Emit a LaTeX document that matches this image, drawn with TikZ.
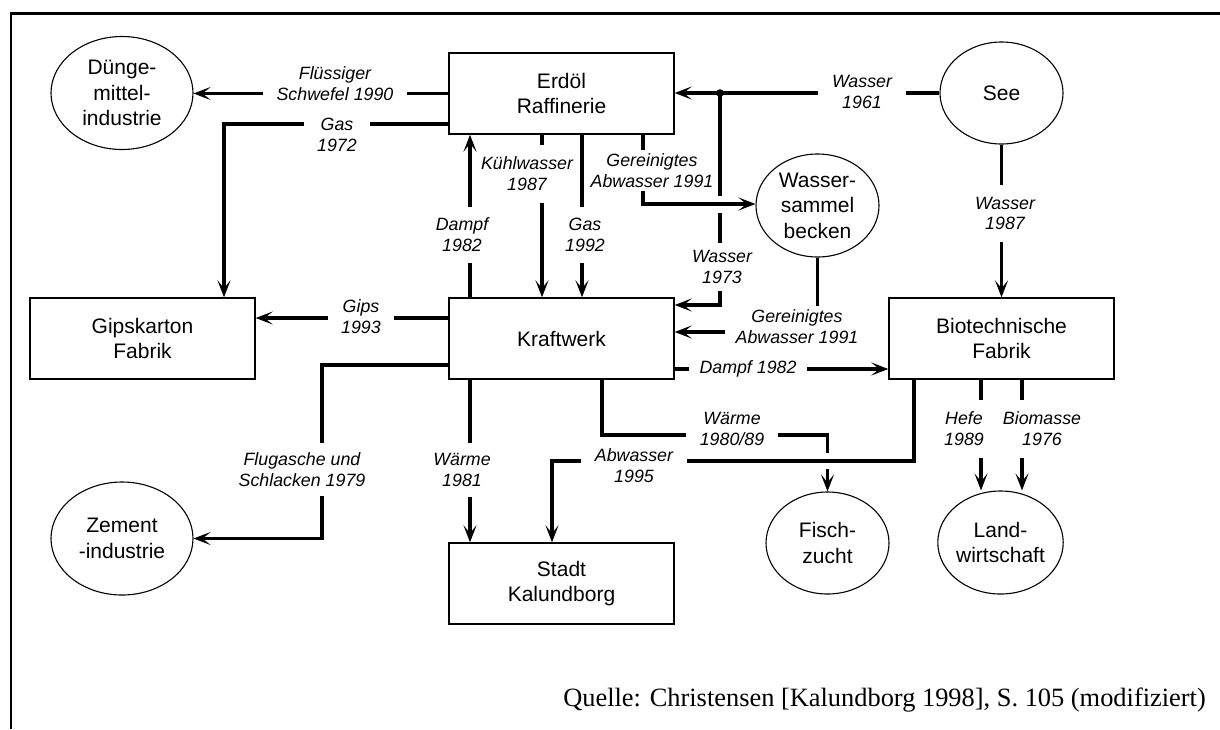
\documentclass[tikz,border=0pt]{standalone}
\usepackage{fontspec}
\setmainfont{Liberation Sans}
\newfontfamily\quellefont{Liberation Serif}
\usetikzlibrary{arrows.meta,shapes.geometric}
\begin{document}
\begin{tikzpicture}[x=1pt,y=-1pt,
  box/.style={draw, line width=1.4pt, minimum width=225pt, minimum height=81pt,
    inner sep=0pt, align=center, font=\fontsize{21}{25.5}\selectfont},
  oval/.style={draw, ellipse, line width=1.1pt, inner sep=0pt, align=center,
    font=\fontsize{21}{25.5}\selectfont},
  flow/.style={line width=3.1pt, -{Stealth[length=17pt,width=13pt,inset=8pt]}},
  lbl/.style={fill=white, inner sep=0pt, align=center,
    font=\fontsize{17.8}{20.8}\selectfont\itshape},
  hlbl/.style={lbl, inner xsep=#1, inner ysep=1pt},
  vlbl/.style={lbl, inner xsep=2pt, inner ysep=#1},
  crossgap/.style={fill=white},
]
\useasboundingbox (0,0) rectangle (1220,729);

% frame
\draw[line width=2.2pt] (1220,13.5) -- (10.7,13.5) -- (10.7,729);

% plants and partners
\node[oval, minimum width=142pt, minimum height=113pt] (dunge) at (122,93) {Dünge-\\mittel-\\industrie};
\node[box] (erdoel) at (561.5,93.5) {Erdöl\\Raffinerie};
\node[oval, minimum width=123pt, minimum height=102pt] (see) at (1001.5,93) {See};
\node[oval, minimum width=123pt, minimum height=103pt] (wsb) at (817.5,205.5) {Wasser-\\sammel\\becken};
\node[box] (gips) at (142.5,338.5) {Gipskarton\\Fabrik};
\node[box] (kraft) at (561.5,338.5) {Kraftwerk};
\node[box] (bio) at (1001.5,338.5) {Biotechnische\\Fabrik};
\node[oval, minimum width=142pt, minimum height=113pt] (zement) at (122,538.5) {Zement\\-industrie};
\node[box] (stadt) at (561.5,583.5) {Stadt\\Kalundborg};
\node[oval, minimum width=123pt, minimum height=102pt] (fisch) at (827.5,543) {Fisch-\\zucht};
\node[oval, minimum width=123pt, minimum height=103pt] (land) at (1000.5,542.5) {Land-\\wirtschaft};

\coordinate (j) at (720,93);
\coordinate (xa) at (720,204);
\coordinate (xb) at (828,461);

% flows
\draw[flow] (erdoel.west) -- (erdoel.west -| dunge.east);
\draw[flow] (erdoel.west |- 0,124) -| (gips.north -| 224,0);
\draw[flow] (kraft.north -| 470,0) -- (erdoel.south -| 470,0);
\draw[flow] (erdoel.south -| 542,0) -- (kraft.north -| 542,0);
\draw[flow] (erdoel.south -| 582,0) -- (kraft.north -| 582,0);
\draw[flow] (see.west) -- (see.west -| erdoel.east);
\draw[flow] (j) |- (kraft.east |- 0,305);
\fill[crossgap] ([xshift=-5pt,yshift=-8.5pt]xa) rectangle ([xshift=5pt,yshift=8.5pt]xa);
\draw[flow] (erdoel.south -| 643,0) |- (wsb.west |- 0,204);
\fill (j) circle (3.8pt);
\draw[flow] (wsb.south) |- (kraft.east |- 0,332);
\draw[flow] (kraft.west |- 0,318) -- (gips.east |- 0,318);
\draw[flow] (kraft.west |- 0,365) -| (zement.east -| 322,0) -- (zement.east);
\draw[flow] (kraft.east |- 0,369) -- (bio.west |- 0,369);
\draw[flow] (kraft.south -| 602,0) |- (fisch.north |- 0,435) -- (fisch.north);
\fill[crossgap] ([xshift=-5pt,yshift=-8pt]xb) rectangle ([xshift=5pt,yshift=8pt]xb);
\draw[flow] (kraft.south -| 470,0) -- (stadt.north -| 470,0);
\draw[flow] (bio.south -| 914,0) |- (552,461) -- (stadt.north -| 552,0);
\draw[flow] (see.south) -- (bio.north);
\draw[flow] (bio.south -| 981,0) -- (land.north -| 981,0);
\draw[flow] (bio.south -| 1022,0) -- (land.north -| 1022,0);

% flow labels
\node[hlbl=13.5pt] (l1) at (335,83.5) {Flüssiger\\Schwefel 1990};
\node[hlbl=13.5pt] (l2) at (337,134.5) {Gas\\1972};
\node[vlbl=11pt] (l3) at (462,235) {Dampf\\1982};
\node[vlbl=12pt] (l4) at (527,174) {Kühlwasser\\1987};
\node[vlbl=11pt] (l5) at (585,235) {Gas\\1992};
\node[vlbl=4pt] (l6) at (652,170.5) {Gereinigtes\\Abwasser 1991};
\node[hlbl=14pt] (l7) at (862,92) {Wasser\\1961};
\node[vlbl=7pt] (l8) at (722,267) {Wasser\\1973};
\node[lbl, inner xsep=11pt, inner ysep=4pt] (l9) at (797,327) {Gereinigtes\\Abwasser 1991};
\node[hlbl=13pt] (l10) at (361,316.5) {Gips\\1993};
\node[vlbl=10pt] (l11) at (302,469.5) {Flugasche und\\Schlacken 1979};
\node[hlbl=11pt] (l12) at (748,369) {Dampf 1982};
\node[hlbl=14pt] (l13) at (732,429) {Wärme\\1980/89};
\node[vlbl=10pt] (l14) at (462,470) {Wärme\\1981};
\node[hlbl=14pt] (l15) at (634,465.5) {Abwasser\\1995};
\node[vlbl=12pt] (l16) at (1005,213.5) {Wasser\\1987};
\node[vlbl=12pt] (l17) at (964,429) {Hefe\\1989};
\node[vlbl=12pt] (l18) at (1042,429) {Biomasse\\1976};

% source
\node[anchor=base east, inner sep=0pt, font=\quellefont\fontsize{26.4}{30}\selectfont] (src) at (1206,706)
  {Quelle: Christensen [Kalundborg 1998], S. 105 (modifiziert)};
\end{tikzpicture}
\end{document}
